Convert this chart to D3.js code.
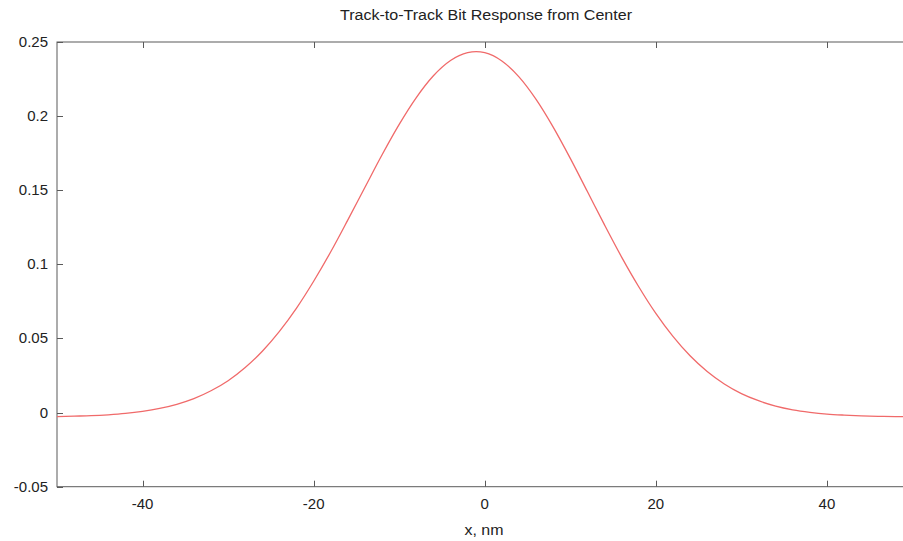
<!DOCTYPE html>
<html>
<head>
<meta charset="utf-8">
<script src="https://cdn.jsdelivr.net/npm/d3@7"></script>
<style>
  html, body { margin: 0; padding: 0; background: #fff; }
  svg { display: block; }
  text { font-family: "Liberation Sans", Arial, sans-serif; fill: #222; }
</style>
</head>
<body>
<svg id="chart" width="903" height="541"></svg>
<script>
// ---- data ----
const title = "Track-to-Track Bit Response from Center";
const xLabel = "x, nm";
const xTicks = [-40, -20, 0, 20, 40];
const yTicks = [-0.05, 0, 0.05, 0.1, 0.15, 0.2, 0.25];
const xValues = [-50, -48, -46, -44, -42, -40, -38, -36, -34, -32, -30, -28, -26, -24, -22, -20,
  -18, -16, -14, -12, -10, -8, -6, -4, -2, -1, 0, 2, 4, 6, 8, 10, 12, 14, 16, 18, 20, 22, 24,
  26, 28, 30, 32, 34, 36, 38, 40, 42, 44, 46, 48, 50];
const response = [-0.0027, -0.0024, -0.0021, -0.0015, -0.0006, 0.0008, 0.0028, 0.0056, 0.0094,
  0.0147, 0.0215, 0.0304, 0.0414, 0.0548, 0.0705, 0.0886, 0.1085, 0.1300, 0.1520, 0.1739,
  0.1944, 0.2125, 0.2272, 0.2375, 0.2428, 0.2435, 0.2428, 0.2372, 0.2265, 0.2113, 0.1926,
  0.1715, 0.1491, 0.1266, 0.1049, 0.0849, 0.0669, 0.0514, 0.0383, 0.0277, 0.0193, 0.0128,
  0.0080, 0.0044, 0.0019, 0.0002, -0.0010, -0.0017, -0.0022, -0.0025, -0.0027, -0.0028];

// ---- layout ----
const svg = d3.select("#chart");
const mLeft = 57, mRight = 912.5, mTop = 42, mBottom = 486.7;
const axisColor = "#5a5a5a";
const tickLen = 6;

const x = d3.scaleLinear().domain([-50, 50]).range([mLeft, mRight]);
const y = d3.scaleLinear().domain([-0.05, 0.25]).range([mBottom, mTop]);

// frame
svg.append("rect")
  .attr("x", mLeft).attr("y", mTop)
  .attr("width", mRight - mLeft).attr("height", mBottom - mTop)
  .attr("fill", "none").attr("stroke", axisColor).attr("stroke-width", 1);

// x ticks (bottom and top, inward)
const xt = svg.append("g");
xTicks.forEach(t => {
  const px = Math.round(x(t)) + 0.5;
  xt.append("line").attr("x1", px).attr("x2", px).attr("y1", mBottom).attr("y2", mBottom - tickLen)
    .attr("stroke", axisColor);
  xt.append("line").attr("x1", px).attr("x2", px).attr("y1", mTop).attr("y2", mTop + tickLen)
    .attr("stroke", axisColor);
  xt.append("text").attr("x", x(t)).attr("y", 508.5)
    .attr("text-anchor", "middle").attr("font-size", "15px").text(String(t));
});

// y ticks (left and right, inward)
const yt = svg.append("g");
yTicks.forEach(t => {
  const py = Math.round(y(t)) + 0.5;
  yt.append("line").attr("x1", mLeft).attr("x2", mLeft + tickLen).attr("y1", py).attr("y2", py)
    .attr("stroke", axisColor);
  yt.append("line").attr("x1", mRight).attr("x2", mRight - tickLen).attr("y1", py).attr("y2", py)
    .attr("stroke", axisColor);
  yt.append("text").attr("x", 48).attr("y", y(t) + 5)
    .attr("text-anchor", "end").attr("font-size", "15px").text(String(+t.toFixed(2)));
});

// curve
const pts = xValues.map((v, i) => [v, response[i]]);
const line = d3.line().x(d => x(d[0])).y(d => y(d[1])).curve(d3.curveMonotoneX);
svg.append("path").datum(pts)
  .attr("d", line).attr("fill", "none")
  .attr("stroke", "#f06a6a").attr("stroke-width", 1.3);

// title and axis label
svg.append("text").attr("x", 486).attr("y", 20).attr("text-anchor", "middle")
  .attr("font-size", "14px")
  .attr("textLength", 292).attr("lengthAdjust", "spacingAndGlyphs")
  .text(title);
svg.append("text").attr("x", 484).attr("y", 535).attr("text-anchor", "middle")
  .attr("font-size", "15px")
  .attr("textLength", 39).attr("lengthAdjust", "spacingAndGlyphs")
  .text(xLabel);
</script>
</body>
</html>
